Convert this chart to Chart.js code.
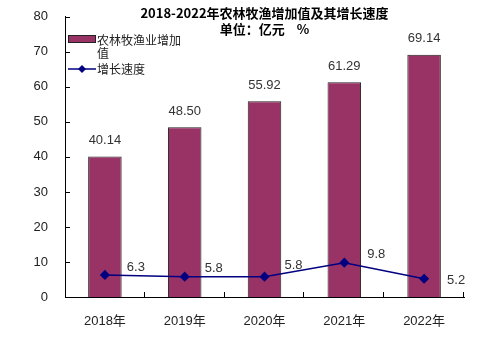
<!DOCTYPE html>
<html>
<head>
<meta charset="utf-8">
<script src="https://cdn.jsdelivr.net/npm/chart.js@4"></script>
<style>
  html, body { margin: 0; padding: 0; background: #fff; }
</style>
</head>
<body>
<canvas id="chart" width="492" height="358"></canvas>
<script>
const years = ['2018年', '2019年', '2020年', '2021年', '2022年'];
const addedValue = [40.14, 48.50, 55.92, 61.29, 69.14];
const growthRate = [6.3, 5.8, 5.8, 9.8, 5.2];
const yTicks = [0, 10, 20, 30, 40, 50, 60, 70, 80];

const titleLines = ['2018-2022年农林牧渔增加值及其增长速度', '单位：亿元    %'];
const barLabel = '农林牧渔业增加值';
const lineLabel = '增长速度';

const BAR_COLOR = '#993366';
const LINE_COLOR = '#000080';
const NUM_FONT = "'Liberation Sans', Arial, 'Noto Sans CJK SC', sans-serif";
const CJK_FONT = "'Noto Sans CJK SC', 'Liberation Sans', sans-serif";

// offsets of the growth labels from their points
const rateLabelOffsets = [[31, -8], [29, -8], [29, -11], [32, -8], [32, 2]];

const extras = {
  id: 'extras',
  afterDatasetsDraw(chart) {
    const ctx = chart.ctx;
    const y = chart.scales.y;
    const area = chart.chartArea;

    ctx.save();
    ctx.strokeStyle = '#000';
    ctx.lineWidth = 1;
    // inside ticks on y axis
    yTicks.forEach(v => {
      const py = Math.round(y.getPixelForValue(v)) + 0.5;
      ctx.beginPath();
      ctx.moveTo(area.left, py);
      ctx.lineTo(area.left + 5, py);
      ctx.stroke();
    });
    // category boundary ticks on x axis
    const step = (area.right - area.left) / years.length;
    for (let i = 1; i <= years.length; i++) {
      const px = Math.round(area.left + step * i) - 0.5;
      ctx.beginPath();
      ctx.moveTo(px, area.bottom);
      ctx.lineTo(px, area.bottom - 5);
      ctx.stroke();
    }

    // value labels
    ctx.fillStyle = '#333';
    ctx.font = '13px ' + NUM_FONT;
    ctx.textAlign = 'center';
    ctx.textBaseline = 'middle';
    const barMeta = chart.getDatasetMeta(1);
    barMeta.data.forEach((bar, i) => {
      ctx.fillText(addedValue[i].toFixed(2), bar.x, bar.y - 16);
    });
    const lineMeta = chart.getDatasetMeta(0);
    lineMeta.data.forEach((pt, i) => {
      const off = rateLabelOffsets[i];
      ctx.fillText(growthRate[i].toFixed(1), pt.x + off[0], pt.y + off[1]);
    });

    // title
    ctx.fillStyle = '#000';
    ctx.font = 'bold 13px ' + CJK_FONT;
    const cx = (area.left + area.right) / 2;
    ctx.fillText(titleLines[0], cx, 13);
    ctx.fillText(titleLines[1], cx, 29);

    // legend
    ctx.fillStyle = BAR_COLOR;
    ctx.fillRect(68, 35, 28, 8);
    ctx.strokeStyle = '#222';
    ctx.strokeRect(68.5, 35.5, 27, 7);
    ctx.fillStyle = '#222';
    ctx.font = '12px ' + CJK_FONT;
    ctx.textAlign = 'left';
    ctx.fillText(barLabel.slice(0, 7), 97, 40);
    ctx.fillText(barLabel.slice(7), 97, 53);
    ctx.fillText(lineLabel, 97, 69);

    ctx.strokeStyle = LINE_COLOR;
    ctx.lineWidth = 1.5;
    ctx.beginPath();
    ctx.moveTo(68, 69);
    ctx.lineTo(96, 69);
    ctx.stroke();
    ctx.fillStyle = LINE_COLOR;
    ctx.beginPath();
    ctx.moveTo(82, 65);
    ctx.lineTo(86, 69);
    ctx.lineTo(82, 73);
    ctx.lineTo(78, 69);
    ctx.closePath();
    ctx.fill();
    ctx.restore();
  }
};

new Chart(document.getElementById('chart'), {
  data: {
    labels: years,
    datasets: [
      {
        type: 'line',
        label: lineLabel,
        data: growthRate,
        borderColor: LINE_COLOR,
        backgroundColor: LINE_COLOR,
        borderWidth: 1.5,
        pointStyle: 'rectRot',
        pointRadius: 4,
        tension: 0
      },
      {
        type: 'bar',
        label: barLabel,
        data: addedValue,
        backgroundColor: BAR_COLOR,
        borderColor: '#222',
        borderWidth: 1,
        categoryPercentage: 1,
        barPercentage: 0.42
      }
    ]
  },
  options: {
    responsive: false,
    animation: false,
    devicePixelRatio: 1,
    layout: { padding: { top: 12, right: 28, left: 0, bottom: 0 } },
    plugins: {
      legend: { display: false },
      title: { display: false },
      tooltip: { enabled: false }
    },
    scales: {
      x: {
        grid: { display: false },
        border: { color: '#000', width: 1 },
        ticks: { color: '#222', padding: 9, font: { family: NUM_FONT, size: 13 } },
        afterFit: s => { s.height = 61; }
      },
      y: {
        min: yTicks[0],
        max: yTicks[yTicks.length - 1],
        grid: { display: false },
        border: { color: '#000', width: 1 },
        ticks: {
          stepSize: yTicks[1] - yTicks[0],
          color: '#222',
          padding: 9,
          font: { family: NUM_FONT, size: 13 }
        },
        afterFit: s => { s.width = 65; }
      }
    }
  },
  plugins: [extras]
});
</script>
</body>
</html>
